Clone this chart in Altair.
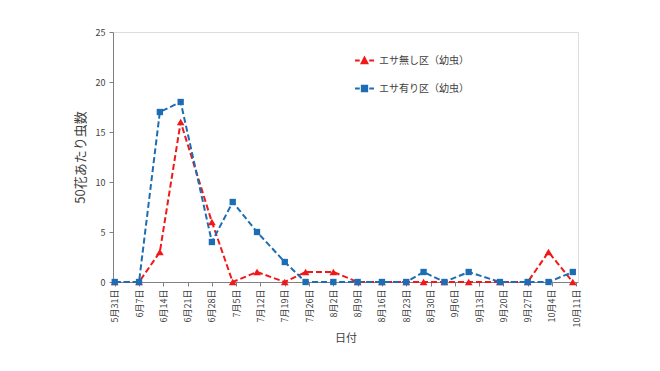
import altair as alt
import pandas as pd

obs_dates = ["2021-05-31", "2021-06-07", "2021-06-13", "2021-06-19", "2021-06-28",
             "2021-07-04", "2021-07-11", "2021-07-19", "2021-07-25", "2021-08-02",
             "2021-08-09", "2021-08-16", "2021-08-23", "2021-08-28", "2021-09-03",
             "2021-09-10", "2021-09-19", "2021-09-27", "2021-10-03", "2021-10-10"]
no_feed = [0, 0, 3, 16, 6, 0, 1, 0, 1, 1, 0, 0, 0, 0, 0, 0, 0, 0, 3, 0]
with_feed = [0, 0, 17, 18, 4, 8, 5, 2, 0, 0, 0, 0, 0, 1, 0, 1, 0, 0, 0, 1]

series_names = ["エサ無し区（幼虫）", "エサ有り区（幼虫）"]
series_colors = ["#f01818", "#1d6db4"]

# Weekly tick dates (month, day)
tick_md = [(5, 31), (6, 7), (6, 14), (6, 21), (6, 28), (7, 5), (7, 12), (7, 19),
           (7, 26), (8, 2), (8, 9), (8, 16), (8, 23), (8, 30), (9, 6), (9, 13),
           (9, 20), (9, 27), (10, 4), (10, 11)]
y_ticks = [0, 5, 10, 15, 20, 25]

rows = []
for d, a, b in zip(obs_dates, no_feed, with_feed):
    rows.append({"date": d, "value": a, "series": series_names[0]})
    rows.append({"date": d, "value": b, "series": series_names[1]})
df = pd.DataFrame(rows)

FONT = "Noto Sans CJK JP"
TXT = "#404040"

x_enc = alt.X(
    "date:T",
    scale=alt.Scale(type="utc",
                    domain=[alt.DateTime(year=2021, month=5, date=30, hours=12, utc=True),
                            alt.DateTime(year=2021, month=10, date=11, hours=12, utc=True)]),
    axis=alt.Axis(
        values=[alt.DateTime(year=2021, month=m, date=d, utc=True) for m, d in tick_md],
        labelExpr="(utcmonth(datum.value)+1) + '月' + utcdate(datum.value) + '日'",
        labelAngle=270, labelAlign="right", labelBaseline="middle",
        labelFontSize=9, labelPadding=3, tickSize=4, grid=False,
        title="日付", titleFontSize=11, titleFontWeight="normal", titlePadding=6,
        labelColor=TXT, titleColor=TXT, domainColor="#808080", tickColor="#808080",
    ),
)
y_enc = alt.Y(
    "value:Q",
    scale=alt.Scale(domain=[0, 25]),
    axis=alt.Axis(values=y_ticks, grid=False, labelFontSize=9, tickSize=4, labelPadding=4,
                  title="50花あたり虫数", titleFontSize=13, titleFontWeight="normal",
                  titlePadding=8, labelColor=TXT, titleColor=TXT,
                  domainColor="#808080", tickColor="#808080"),
)

base = alt.Chart(df)
layers = []
shapes = ["triangle-up", "square"]
sizes = [60, 40]
for name, col in zip(series_names, series_colors):
    sub = base.transform_filter(alt.datum.series == name)
    layers.append(sub.mark_line(strokeDash=[6, 3], strokeWidth=2, color=col).encode(x=x_enc, y=y_enc))
for name, col, shp, sz in zip(series_names, series_colors, shapes, sizes):
    sub = base.transform_filter(alt.datum.series == name)
    layers.append(sub.mark_point(shape=shp, filled=True, size=sz, opacity=1, color=col).encode(x=x_enc, y=y_enc))

legend_paths = [
    "M-1,0H-0.5M0.5,0H1M-0.3,0.28L0,-0.3L0.3,0.28Z",
    "M-1,0H-0.5M0.5,0H1M-0.28,-0.28H0.28V0.28H-0.28Z",
]
leg = alt.Legend(title=None, orient="none", legendX=241, legendY=18,
                 symbolSize=360, symbolStrokeWidth=2, symbolOpacity=1, labelFontSize=10,
                 labelFont=FONT, labelColor=TXT, rowPadding=10, labelOffset=4)

legend_layer = base.mark_point(filled=True, size=0).encode(
    x=x_enc, y=y_enc,
    fill=alt.Fill("series:N", scale=alt.Scale(domain=series_names, range=series_colors), legend=leg),
    stroke=alt.Stroke("series:N", scale=alt.Scale(domain=series_names, range=series_colors), legend=leg),
    shape=alt.Shape("series:N", scale=alt.Scale(domain=series_names, range=legend_paths), legend=leg),
)
layers.append(legend_layer)

chart = alt.layer(*layers).properties(
    width=465, height=250,
    autosize=alt.AutoSizeParams(type="none"),
    padding={"left": 105, "top": 24, "right": 70, "bottom": 70},
).configure_view(stroke="#808080", strokeWidth=1).configure(font=FONT)

chart.save("out.html", embed_options={"renderer": "svg", "actions": False})
